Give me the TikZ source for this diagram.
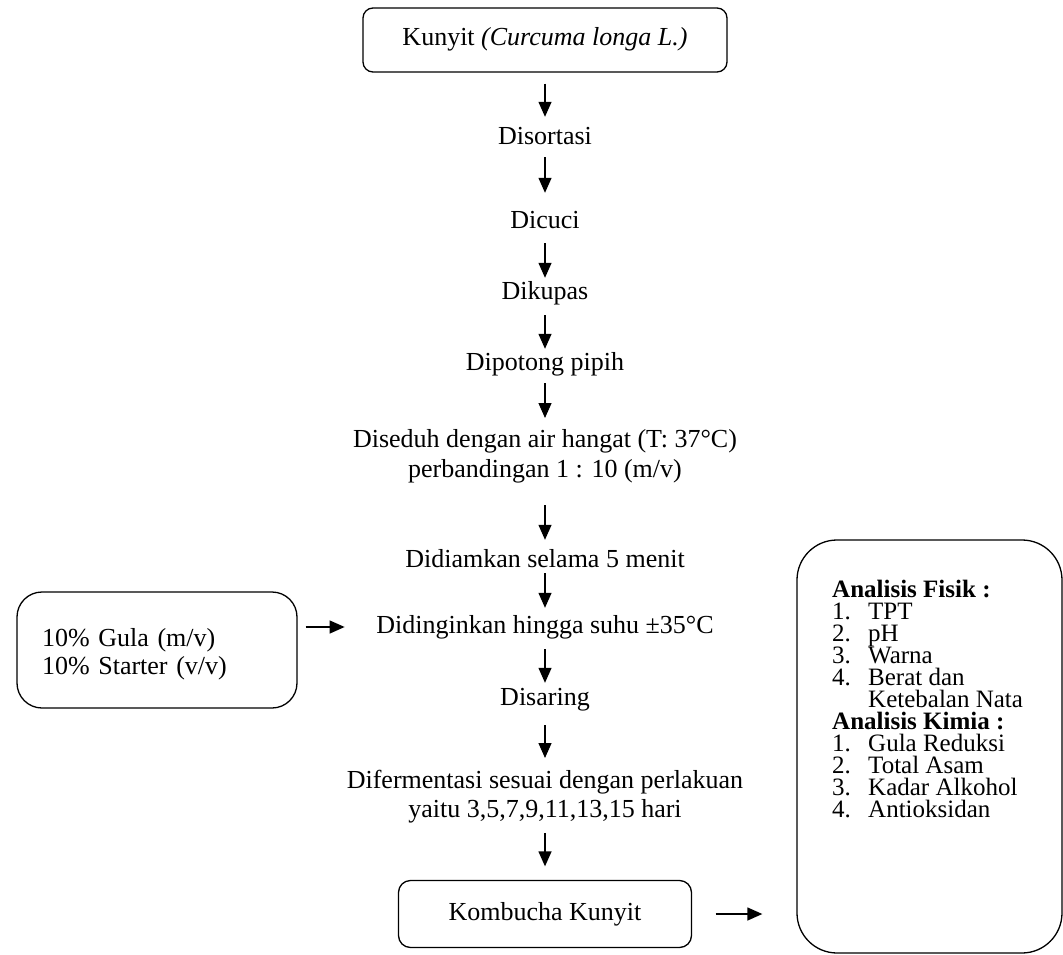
\documentclass[tikz,border=0pt]{standalone}
\usepackage{fontspec}
\setmainfont{Liberation Serif}
\usetikzlibrary{arrows.meta}
\begin{document}
\begin{tikzpicture}[x=1pt,y=-1pt,
  every node/.style={font=\fontsize{26}{30}\selectfont},
  txt/.style={inner sep=0pt, text height=17pt, text depth=5pt, anchor=base},
  twoline/.style={inner sep=0pt, align=center, anchor=north},
  rbox/.style={draw, line width=1.3pt, rounded corners=10pt, inner xsep=0pt, inner ysep=0pt, text height=17pt, text depth=5pt},
  arr/.style={line width=1.3pt, -{Triangle[length=15pt,width=13pt]}},
]
\useasboundingbox (0,0) rectangle (1063,955);

% main column
\node[rbox, minimum width=364pt, minimum height=64pt] (kunyit) at (545,40) {Kunyit \textit{(Curcuma longa L.)}};
\node[txt] (sortasi) at (545,145) {Disortasi};
\node[txt] (cuci) at (545,228) {Dicuci};
\node[txt] (kupas) at (545,299) {Dikupas};
\node[txt] (potong) at (545,370) {Dipotong pipih};
\node[twoline] (seduh) at (545,429) {Diseduh dengan air hangat (T: 37°C)\\perbandingan 1 : 10 (m/v)};
\node[txt] (diam) at (545,567) {Didiamkan selama 5 menit};
\node[txt] (dingin) at (545,633) {Didinginkan hingga suhu ±35°C};
\node[txt] (saring) at (545,705) {Disaring};
\node[twoline, font=\fontsize{26}{29}\selectfont] (ferment) at (545,770) {Difermentasi sesuai dengan perlakuan\\yaitu 3,5,7,9,11,13,15 hari};
\node[rbox, rounded corners=12pt, minimum width=293pt, minimum height=67pt] (kombucha) at (545,914) {Kombucha Kunyit};

% side boxes
\node[draw, line width=1.3pt, rounded corners=25pt, minimum width=280pt, minimum height=116pt,
      text width=230pt, inner xsep=25pt, align=left, font=\fontsize{26}{28}\selectfont] (bahan) at (157,650)
      {\rule{0pt}{26pt}10\% Gula (m/v)\\10\% Starter (v/v)};

\node[draw, line width=1.3pt, rounded corners=40pt, minimum width=265pt, minimum height=413pt] (analisis) at (929.5,746.5) {};
\node[inner sep=0pt, anchor=north west, align=left,
      font={\fontsize{25}{22}\selectfont\lineskiplimit=-100pt}] (analisistxt) at (832,580)
      {\textbf{Analisis Fisik :}\\
       \makebox[36pt][l]{1.}TPT\\
       \makebox[36pt][l]{2.}pH\\
       \makebox[36pt][l]{3.}Warna\\
       \makebox[36pt][l]{4.}Berat dan\\
       \makebox[36pt][l]{}Ketebalan Nata\\
       \textbf{Analisis Kimia :}\\
       \makebox[36pt][l]{1.}Gula Reduksi\\
       \makebox[36pt][l]{2.}Total Asam\\
       \makebox[36pt][l]{3.}Kadar Alkohol\\
       \makebox[36pt][l]{4.}Antioksidan};

% arrows
\draw[arr, shorten <=11pt, shorten >=11pt] (kunyit.south) -- (sortasi.north);
\draw[arr, shorten <=7pt, shorten >=18pt] (sortasi.south) -- (cuci.north);
\draw[arr, shorten <=10pt, shorten >=4pt] (cuci.south) -- (kupas.north);
\draw[arr, shorten <=11pt, shorten >=4pt] (kupas.south) -- (potong.north);
\draw[arr, shorten <=8pt, shorten >=11pt] (potong.south) -- (seduh.north);
\draw[arr, shorten <=22pt, shorten >=10pt] (seduh.south) -- (diam.north);
\draw[arr, shorten <=1pt, shorten >=8pt] (diam.south) -- (dingin.north);
\draw[arr, shorten <=11pt, shorten >=5pt] (dingin.south) -- (saring.north);
\draw[arr, shorten <=15pt, shorten >=12pt] (saring.south) -- (ferment.north);
\draw[arr, shorten <=9.5pt, shorten >=13.5pt] (ferment.south) -- (kombucha.north);
\draw[arr, shorten <=8pt, shorten >=31.5pt] (bahan.east |- dingin.west) -- (dingin.west);
\draw[arr, shorten <=23.5pt, shorten >=34pt] (kombucha.east) -- (kombucha.east -| analisis.west);
\end{tikzpicture}
\end{document}
